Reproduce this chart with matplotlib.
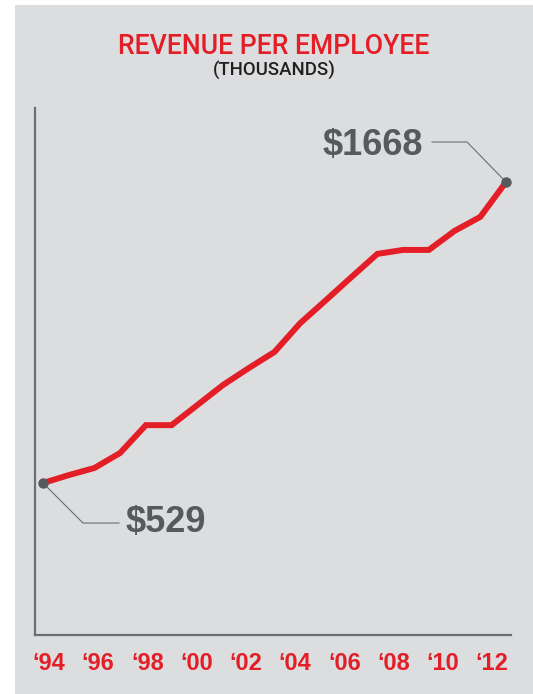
import matplotlib
matplotlib.use("Agg")
import matplotlib.pyplot as plt
import matplotlib.patches as mpatches
import numpy as np

# ── Daten ────────────────────────────────────────────────────────────────────
years = [1994, 1995, 1996, 1997, 1998, 1999, 2000, 2001, 2002, 2003,
         2004, 2005, 2006, 2007, 2008, 2009, 2010, 2011, 2012]
revenue = [529, 559, 586, 643, 748, 748, 824, 900, 964, 1025,
           1134, 1221, 1309, 1396, 1411, 1411, 1483, 1536, 1668]
tick_years = [1994, 1996, 1998, 2000, 2002, 2004, 2006, 2008, 2010, 2012]
tick_labels = ["\u201894", "\u201896", "\u201898", "\u201800", "\u201802",
               "\u201804", "\u201806", "\u201808", "\u201810", "\u201812"]

# ── Farben ───────────────────────────────────────────────────────────────────
C_BG = "#dcdddf"
C_RED = "#e31e26"
C_AXIS = "#6d6e71"
C_DARK = "#58595b"

COND = ['Liberation Sans Narrow', 'DejaVu Sans Condensed', 'Liberation Sans']

W, H = 533, 694
fig = plt.figure(figsize=(W/100, H/100), dpi=100, facecolor="white")
fig.patches.append(mpatches.Rectangle((15/W, 0), 1 - 15/W, 1 - 5/H,
                   transform=fig.transFigure, facecolor=C_BG, edgecolor="none",
                   zorder=-10))

fig.text(274/W, 1 - 46/H, "REVENUE PER EMPLOYEE", color=C_RED,
         fontsize=19.2, family='Roboto', fontweight='medium',
         ha='center', va='center')
fig.text(274/W, 1 - 70/H, "(THOUSANDS)", color="#231f20",
         fontsize=13.4, family='Roboto', fontweight='medium',
         ha='center', va='center')

ax = fig.add_axes([35/W, 1 - 635/H, 476/W, 527/H])
ax.set_facecolor("none")
ax.plot(years, revenue, color=C_RED, lw=4.3, solid_capstyle='projecting',
        solid_joinstyle='miter', zorder=3)
ax.set_xlim(1993.689, 2012.194)
ax.set_ylim(-46, 1948)
for s in ["top", "right"]:
    ax.spines[s].set_visible(False)
for s in ["left", "bottom"]:
    ax.spines[s].set_color(C_AXIS)
    ax.spines[s].set_linewidth(1.6)
ax.set_xticks([]); ax.set_yticks([])

# Beschriftung der Jahre (eigene Achse, leicht gestaucht)
axt = ax.twiny()
axt.set_xlim(1993.431, 2012.772)
axt.xaxis.set_ticks_position('bottom')
axt.xaxis.set_label_position('bottom')
axt.set_xticks(tick_years)
axt.set_xticklabels(tick_labels, color=C_RED, fontsize=17, fontweight='bold',
                    family=COND)
axt.tick_params(axis='x', length=0, pad=12)
for s in axt.spines.values():
    s.set_visible(False)

# ── Endpunkte mit Führungslinien ────────────────────────────────────────────
def leader(ax, x, y, offsets):
    p = ax.transData.transform((x, y))
    pts = [ax.transData.inverted().transform(p + np.array(o)) for o in offsets]
    xs = [x] + [q[0] for q in pts]
    ys = [y] + [q[1] for q in pts]
    ax.plot(xs, ys, color=C_AXIS, lw=0.8, zorder=2, clip_on=False)

x0, y0 = years[0], revenue[0]
x1, y1 = years[-1], revenue[-1]
ax.plot([x0, x1], [y0, y1], 'o', color=C_DARK, ms=6.5, zorder=4, clip_on=False)
leader(ax, x0, y0, [(40, -40), (76, -40)])
leader(ax, x1, y1, [(-39, 40), (-74, 40)])

ax.annotate(f"${y0}", (x0, y0), xytext=(83, -39), textcoords='offset pixels',
            ha='left', va='center', fontsize=26, fontweight='bold',
            family=COND, color=C_DARK)
ax.annotate(f"${y1}", (x1, y1), xytext=(-83, 37), textcoords='offset pixels',
            ha='right', va='center', fontsize=26, fontweight='bold',
            family=COND, color=C_DARK)

fig.savefig("out.png", dpi=100, facecolor=fig.get_facecolor())
